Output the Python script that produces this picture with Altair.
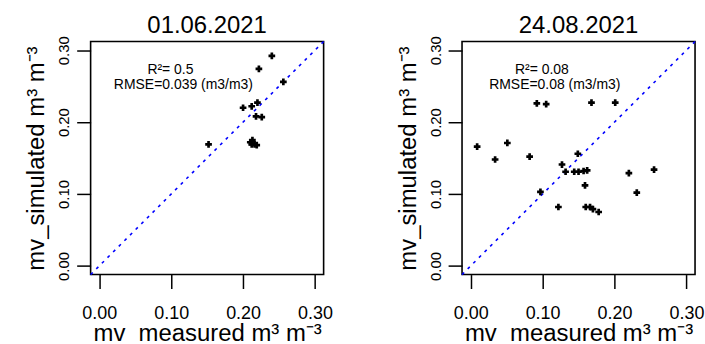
import altair as alt
import pandas as pd

# ---- data ----
dates = ["01.06.2021", "24.08.2021"]

jun_measured = [0.240, 0.222, 0.256, 0.220, 0.200, 0.212, 0.218, 0.226, 0.152,
                0.210, 0.213, 0.216, 0.219, 0.212]
jun_simulated = [0.292, 0.274, 0.256, 0.227, 0.220, 0.222, 0.208, 0.207, 0.169,
                 0.172, 0.175, 0.169, 0.168, 0.169]

aug_measured = [0.009, 0.034, 0.051, 0.082, 0.092, 0.105, 0.168, 0.201, 0.149,
                0.127, 0.132, 0.144, 0.150, 0.157, 0.162, 0.220, 0.255, 0.159,
                0.231, 0.097, 0.122, 0.160, 0.166, 0.170, 0.178]
aug_simulated = [0.166, 0.148, 0.171, 0.152, 0.226, 0.225, 0.227, 0.227, 0.156,
                 0.141, 0.131, 0.131, 0.131, 0.132, 0.133, 0.129, 0.134, 0.112,
                 0.102, 0.103, 0.082, 0.082, 0.082, 0.079, 0.075]

r2_labels = ["R\u00b2= 0.5", "R\u00b2= 0.08"]
rmse_labels = ["RMSE=0.039 (m3/m3)", "RMSE=0.08 (m3/m3)"]

tick_values = [0.0, 0.05, 0.10, 0.15, 0.20, 0.25, 0.30]
axis_domain = [-0.012, 0.312]

FONT = "Liberation Sans"
BOX = 234


def panel(title, xs, ys, r2, rmse):
    pts = pd.DataFrame({"measured": xs, "simulated": ys})
    line_df = pd.DataFrame({"x": [axis_domain[0]], "y": [axis_domain[0]],
                            "x2": [axis_domain[1]], "y2": [axis_domain[1]]})
    ann = pd.DataFrame({"x": [0.099, 0.117], "y": [0.272, 0.252],
                        "label": [r2, rmse]})

    label_expr = ("abs(round(datum.value * 20)) % 2 == 0 ? "
                  "format(datum.value, '.2f') : ''")
    xscale = alt.Scale(domain=axis_domain, nice=False, zero=False)
    yscale = alt.Scale(domain=axis_domain, nice=False, zero=False)

    xaxis = alt.Axis(values=tick_values, labelExpr=label_expr, grid=False,
                     domain=False, tickSize=14, tickColor="black", tickWidth=1.5,
                     labelFont=FONT, labelFontSize=18, labelColor="black",
                     labelPadding=16, labelFlush=False, labelOverlap=False,
                     title="mv_measured m\u00b3 m\u207b\u00b3", titleFont=FONT,
                     titleFontSize=24, titleFontWeight="normal",
                     titleColor="black", titlePadding=-1)
    yaxis = alt.Axis(values=tick_values, labelExpr=label_expr, grid=False,
                     domain=False, tickSize=14, tickColor="black", tickWidth=1.5,
                     labelFont=FONT, labelFontSize=15, labelColor="black",
                     labelAngle=-90, labelAlign="center",
                     labelBaseline="alphabetic",
                     labelPadding=8, labelFlush=False, labelOverlap=False,
                     title="mv_simulated m\u00b3 m\u207b\u00b3", titleFont=FONT,
                     titleFontSize=24, titleFontWeight="normal",
                     titleColor="black", titlePadding=8)

    diag = alt.Chart(line_df).mark_rule(
        color="#0000ff", strokeWidth=1.6, strokeDash=[3, 5]
    ).encode(
        x=alt.X("x:Q", scale=xscale, axis=xaxis),
        y=alt.Y("y:Q", scale=yscale, axis=yaxis),
        x2="x2:Q", y2="y2:Q",
    )
    points = alt.Chart(pts).mark_point(
        shape="cross", filled=True, color="black", size=45, opacity=1
    ).encode(
        x=alt.X("measured:Q", scale=xscale),
        y=alt.Y("simulated:Q", scale=yscale),
    )
    text = alt.Chart(ann).mark_text(
        font=FONT, fontSize=14, color="black", align="center",
        baseline="middle"
    ).encode(
        x=alt.X("x:Q", scale=xscale),
        y=alt.Y("y:Q", scale=yscale),
        text="label:N",
    )
    return alt.layer(diag, points, text).properties(
        width=BOX, height=BOX,
        title=alt.TitleParams(title, font=FONT, fontSize=24,
                              fontWeight="normal", color="black",
                              anchor="middle", frame="group", offset=-2),
    )


left = panel(dates[0], jun_measured, jun_simulated, r2_labels[0], rmse_labels[0])
right = panel(dates[1], aug_measured, aug_simulated, r2_labels[1], rmse_labels[1])

chart = alt.hconcat(left, right, spacing=62).properties(
    padding={"left": 24, "top": 12, "right": 0, "bottom": 0},
    background="white",
).configure_view(
    stroke="black", strokeWidth=1.6
)

chart.save("out.html", embed_options={"renderer": "svg", "actions": False})
